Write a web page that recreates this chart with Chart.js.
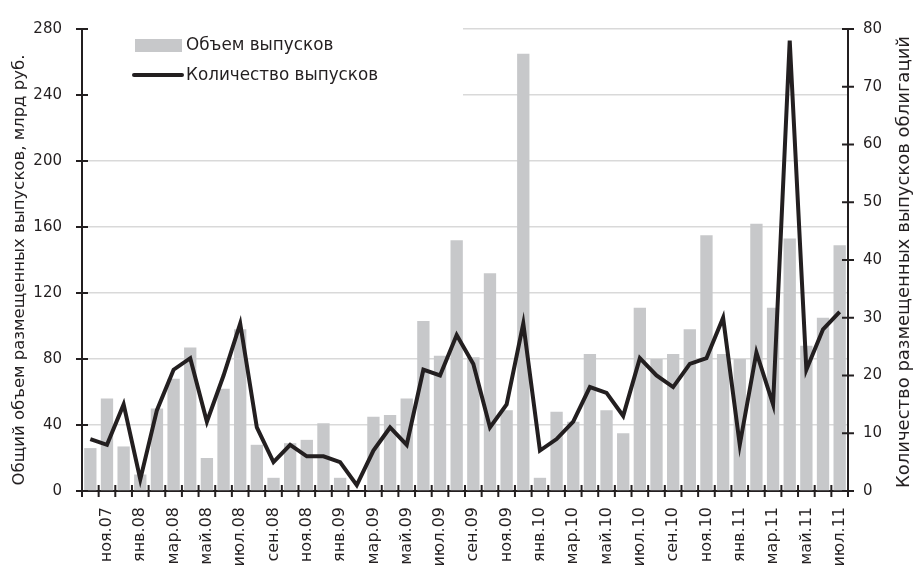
<!DOCTYPE html>
<html>
<head>
<meta charset="utf-8">
<script src="https://cdn.jsdelivr.net/npm/chart.js@4.4.1/dist/chart.umd.min.js"></script>
<style>
  html, body { margin: 0; padding: 0; background: #fff; overflow: hidden; }
  #wrap { width: 914px; height: 567px; overflow: hidden; position: relative; }
  canvas { display: block; }
</style>
</head>
<body>
<div id="wrap"><canvas id="chart" width="914" height="600"></canvas></div>
<script>
// Months, October 2007 – July 2011
const months = [
  'окт.07', 'ноя.07', 'дек.07',
  'янв.08', 'фев.08', 'мар.08', 'апр.08', 'май.08', 'июн.08', 'июл.08', 'авг.08', 'сен.08', 'окт.08', 'ноя.08', 'дек.08',
  'янв.09', 'фев.09', 'мар.09', 'апр.09', 'май.09', 'июн.09', 'июл.09', 'авг.09', 'сен.09', 'окт.09', 'ноя.09', 'дек.09',
  'янв.10', 'фев.10', 'мар.10', 'апр.10', 'май.10', 'июн.10', 'июл.10', 'авг.10', 'сен.10', 'окт.10', 'ноя.10', 'дек.10',
  'янв.11', 'фев.11', 'мар.11', 'апр.11', 'май.11', 'июн.11', 'июл.11'
];

// Total volume of placed issues, bn rub.
const volume = [
  26, 56, 27,
  10, 50, 68, 87, 20, 62, 98, 28, 8, 29, 31, 41,
  8, 0, 45, 46, 56, 103, 82, 152, 81, 132, 49, 265,
  8, 48, 42, 83, 49, 35, 111, 80, 83, 98, 155, 83,
  80, 162, 111, 153, 88, 105, 149
];

// Number of bond issues placed
const issues = [
  9, 8, 15,
  2, 14, 21, 23, 12, 20, 29, 11, 5, 8, 6, 6,
  5, 1, 7, 11, 8, 21, 20, 27, 22, 11, 15, 29,
  7, 9, 12, 18, 17, 13, 23, 20, 18, 22, 23, 30,
  8, 24, 15, 78, 21, 28, 31
];

const volumeTicks = [0, 40, 80, 120, 160, 200, 240, 280];
const issueTicks = [0, 10, 20, 30, 40, 50, 60, 70, 80];

const leftTitle = 'Общий объем размещенных выпусков, млрд руб.';
const rightTitle = 'Количество размещенных выпусков облигаций';

const FONT = '"DejaVu Sans", sans-serif';
const INK = '#231f20';
const BAR = '#c7c8ca';
const GRID = '#d9d9d9';

// Short tick marks that cross the axis lines
const axisMarks = {
  id: 'axisMarks',
  afterDatasetsDraw(chart) {
    const { ctx, chartArea: a, scales } = chart;
    ctx.save();
    ctx.strokeStyle = INK;
    ctx.lineWidth = 2;
    ctx.beginPath();
    scales.y.ticks.forEach((t, i) => {
      const y = scales.y.getPixelForTick(i);
      ctx.moveTo(a.left - 6, y); ctx.lineTo(a.left + 6, y);
    });
    scales.y1.ticks.forEach((t, i) => {
      const y = scales.y1.getPixelForTick(i);
      ctx.moveTo(a.right - 6, y); ctx.lineTo(a.right + 6, y);
    });
    const n = months.length;
    for (let i = 0; i <= n; i++) {
      const x = i === 0 ? a.left : i === n ? a.right
        : (scales.x.getPixelForValue(i - 1) + scales.x.getPixelForValue(i)) / 2;
      ctx.moveTo(x, a.bottom - 6); ctx.lineTo(x, a.bottom + 6);
    }
    ctx.stroke();
    ctx.restore();
  }
};

// Legend box in the upper-left corner of the plot
const insideLegend = {
  id: 'insideLegend',
  beforeDatasetsDraw(chart) {
    const { ctx, chartArea: a } = chart;
    const bars = chart.data.datasets.find(d => d.type === 'bar');
    const line = chart.data.datasets.find(d => d.type === 'line');
    ctx.save();
    ctx.fillStyle = '#fff';
    ctx.fillRect(a.left + 1, 28, 462 - a.left, 70);
    ctx.fillStyle = bars.backgroundColor;
    ctx.fillRect(135, 39, 47, 13);
    ctx.strokeStyle = line.borderColor;
    ctx.lineWidth = 4;
    ctx.lineCap = 'round';
    ctx.beginPath();
    ctx.moveTo(134, 75); ctx.lineTo(182, 75);
    ctx.stroke();
    ctx.font = '16.8px ' + FONT;
    ctx.fillStyle = INK;
    ctx.textBaseline = 'middle';
    ctx.textAlign = 'left';
    ctx.fillText(bars.label, 186, 46);
    ctx.fillText(line.label, 186, 76);
    ctx.restore();
  }
};

// Vertical axis titles, both reading bottom to top
const axisTitles = {
  id: 'axisTitles',
  afterDraw(chart) {
    const { ctx } = chart;
    ctx.save();
    ctx.fillStyle = INK;
    ctx.textAlign = 'center';
    ctx.textBaseline = 'middle';
    ctx.save();
    ctx.font = '16.5px ' + FONT;
    ctx.translate(20, 270);
    ctx.rotate(-Math.PI / 2);
    ctx.fillText(leftTitle, 0, 0);
    ctx.restore();
    ctx.save();
    ctx.font = '18px ' + FONT;
    ctx.translate(904, 262);
    ctx.rotate(-Math.PI / 2);
    ctx.fillText(rightTitle, 0, 0);
    ctx.restore();
    ctx.restore();
  }
};

new Chart(document.getElementById('chart'), {
  data: {
    labels: months,
    datasets: [
      {
        type: 'line',
        label: 'Количество выпусков',
        data: issues,
        yAxisID: 'y1',
        borderColor: INK,
        borderWidth: 4,
        borderJoinStyle: 'miter',
        pointRadius: 0,
        tension: 0,
        order: 0
      },
      {
        type: 'bar',
        label: 'Объем выпусков',
        data: volume,
        yAxisID: 'y',
        backgroundColor: BAR,
        borderWidth: 0,
        barPercentage: 0.74,
        categoryPercentage: 1,
        order: 1
      }
    ]
  },
  options: {
    responsive: false,
    animation: false,
    layout: { padding: { top: 21, left: 0, right: 0, bottom: 0 } },
    plugins: { legend: { display: false }, tooltip: { enabled: false } },
    scales: {
      x: {
        type: 'category',
        offset: true,
        grid: { display: true, drawOnChartArea: false, drawTicks: false, offset: true },
        border: { display: true, color: INK, width: 2 },
        ticks: {
          autoSkip: false,
          minRotation: 90,
          maxRotation: 90,
          padding: 16,
          color: INK,
          font: { family: FONT, size: 16 },
          callback: (v, i) => (i % 2 === 1 ? months[i] : '')
        },
        afterFit(scale) { scale.height = 109; }
      },
      y: {
        position: 'left',
        min: 0,
        max: 280,
        afterBuildTicks(scale) { scale.ticks = volumeTicks.map(v => ({ value: v })); },
        grid: { color: GRID, lineWidth: 1.5, drawTicks: false },
        border: { display: true, color: INK, width: 2 },
        ticks: { padding: 20, color: INK, font: { family: FONT, size: 15 } },
        afterFit(scale) { scale.width = 82; }
      },
      y1: {
        position: 'right',
        min: 0,
        max: 80,
        afterBuildTicks(scale) { scale.ticks = issueTicks.map(v => ({ value: v })); },
        grid: { drawOnChartArea: false, drawTicks: false },
        border: { display: true, color: INK, width: 2 },
        ticks: { padding: 15, color: INK, font: { family: FONT, size: 15 } },
        afterFit(scale) { scale.width = 66; }
      }
    }
  },
  plugins: [insideLegend, axisMarks, axisTitles]
});
</script>
</body>
</html>
